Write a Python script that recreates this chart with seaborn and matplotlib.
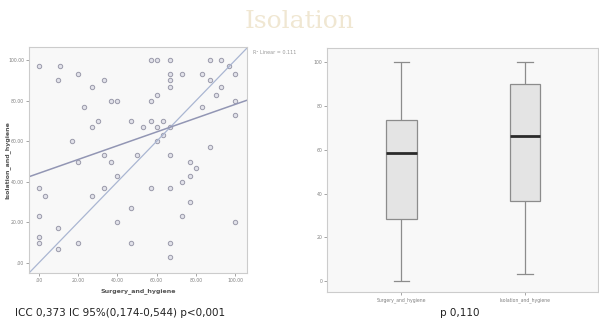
import numpy as np
import pandas as pd
import matplotlib
matplotlib.use("Agg")
import matplotlib.pyplot as plt
import seaborn as sns

# scatter: Surgery_and_hygiene (x) vs Isolation_and_hygiene (y)
surgery = [0, 11, 10, 20, 27, 33, 23, 37, 40, 30, 27, 17, 20, 33, 37, 40,
           0, 3, 0, 0, 0, 10, 10, 20, 27, 33, 40, 47, 47, 50, 47, 57,
           53, 57, 60, 63, 57, 60, 67, 67, 67, 67, 60, 57, 67, 67, 67, 67,
           67, 60, 63, 73, 83, 87, 93, 87, 90, 93, 97, 100, 100, 100, 100,
           83, 87, 73, 77, 77, 80, 77, 73]
isolation = [97, 97, 90, 93, 87, 90, 77, 80, 80, 70, 67, 60, 50, 53, 50, 43,
             37, 33, 23, 13, 10, 17, 7, 10, 33, 37, 20, 27, 10, 53, 70, 70,
             67, 80, 67, 70, 100, 100, 100, 93, 90, 87, 83, 37, 37, 53, 10, 3,
             67, 60, 63, 93, 93, 100, 100, 90, 83, 87, 97, 93, 80, 73, 20,
             77, 57, 40, 43, 50, 47, 30, 23]
fit_intercept = 44.2
fit_slope = 0.34
r2_text = "R² Linear = 0.111"

# boxplot five-number summaries (min, Q1, median, Q3, max)
box_groups = ["Surgery_and_hygiene", "Isolation_and_hygiene"]
box_surgery = [0, 28.3, 58.3, 73.4, 100]
box_isolation = [3.2, 36.4, 66.3, 90.1, 100]

W, H = 599, 322
fig = plt.figure(figsize=(W / 100, H / 100), dpi=100)
fig.patch.set_facecolor("white")

# ---- left: scatter ----
ax1 = fig.add_axes([29 / W, 49 / H, 218 / W, 226 / H])
ax1.set_facecolor("#f8f8f8")
scatter_df = pd.DataFrame({"Surgery_and_hygiene": surgery,
                           "Isolation_and_hygiene": isolation})
sns.scatterplot(data=scatter_df, x="Surgery_and_hygiene", y="Isolation_and_hygiene",
                ax=ax1, s=10, facecolor="#e2e2ea", edgecolor="#9a9aaa",
                linewidth=0.7, legend=False)
ax1.axline((0, 0), slope=1, color="#aab6d2", lw=0.9)
ax1.axline((0, fit_intercept), slope=fit_slope, color="#9296b4", lw=1.1)
ax1.set_xlim(-5, 106)
ax1.set_ylim(-5, 106.5)
ticks = [0, 20, 40, 60, 80, 100]
tick_labels = [".00", "20.00", "40.00", "60.00", "80.00", "100.00"]
ax1.set_xticks(ticks, tick_labels)
ax1.set_yticks(ticks, tick_labels)
ax1.tick_params(labelsize=3.3, length=2, width=0.5, colors="#808080", pad=1.5)
ax1.set_xlabel("Surgery_and_hygiene", fontsize=4.5, fontweight="bold",
               color="#555555", labelpad=4)
ax1.set_ylabel("Isolation_and_hygiene", fontsize=4.5, fontweight="bold",
               color="#555555", va="center")
ax1.yaxis.set_label_coords(-0.1, 0.5)
for sp in ax1.spines.values():
    sp.set_color("#cccccc")
    sp.set_linewidth(0.8)
fig.text(253 / W, 1 - 53 / H, r2_text, fontsize=3.5, color="#999999", va="center")

# ---- right: boxplot ----
ax2 = fig.add_axes([327 / W, 30 / H, 271 / W, 244 / H])
ax2.set_facecolor("#f8f8f8")
box_df = pd.DataFrame({"group": [box_groups[0]] * 5 + [box_groups[1]] * 5,
                       "value": box_surgery + box_isolation})
sns.boxplot(data=box_df, x="group", y="value", ax=ax2, width=0.25,
            whis=(0, 100), color="#e4e4e4", linecolor="#8c8c8c", linewidth=0.9,
            medianprops={"color": "#2a2a2a", "linewidth": 2.0},
            showfliers=False)
ax2.set_xlim(-0.6, 1.59)
ax2.set_ylim(-5, 106.5)
ax2.set_yticks(ticks)
ax2.tick_params(labelsize=3.3, length=2, width=0.5, colors="#808080", pad=1.5)
ax2.set_xlabel("")
ax2.set_ylabel("")
for sp in ax2.spines.values():
    sp.set_color("#cccccc")
    sp.set_linewidth(0.8)

# ---- slide texts ----
fig.text(0.5, 1 - 22 / H, "Isolation", fontsize=18, family="DejaVu Serif",
         color="#f0e7d2", ha="center", va="center")
fig.text(15 / W, 1 - 313 / H, "ICC 0,373 IC 95%(0,174-0,544) p<0,001",
         fontsize=7.5, color="#222222", va="center")
fig.text(460 / W, 1 - 313 / H, "p 0,110", fontsize=7.5, color="#222222",
         ha="center", va="center")

fig.savefig("out.png", dpi=100)
